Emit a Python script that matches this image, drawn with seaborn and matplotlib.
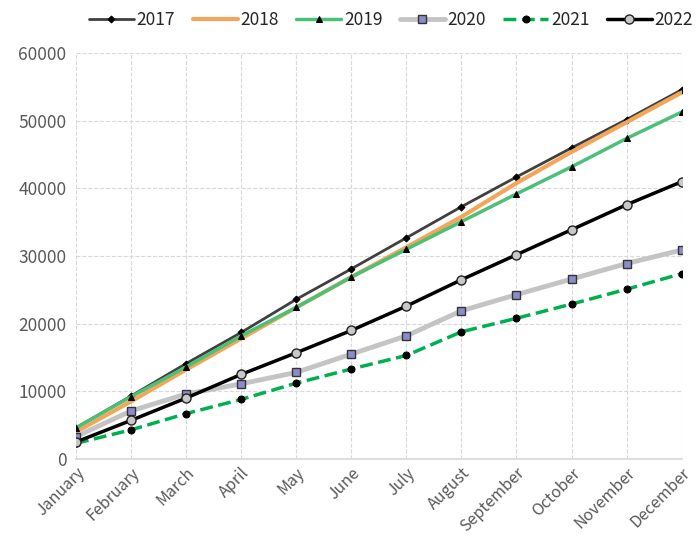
import pandas as pd
import matplotlib.pyplot as plt
import seaborn as sns

# Data
months = ['January', 'February', 'March', 'April', 'May', 'June', 'July',
          'August', 'September', 'October', 'November', 'December']
y2017 = [4600, 9300, 14100, 18700, 23600, 28100, 32700, 37300, 41700, 46000, 50200, 54600]
y2018 = [4000, 8500, 13200, 17800, 22400, 26900, 31300, 35800, 40800, 45400, 49800, 54200]
y2019 = [4600, 9200, 13600, 18200, 22400, 26900, 31000, 35100, 39200, 43200, 47400, 51300]
y2020 = [3300, 7100, 9600, 11100, 12800, 15500, 18200, 21900, 24300, 26600, 28900, 30900]
y2021 = [2300, 4300, 6700, 8800, 11200, 13300, 15300, 18800, 20800, 22900, 25100, 27400]
y2022 = [2500, 5700, 9000, 12500, 15700, 19000, 22600, 26500, 30200, 33900, 37600, 41000]

sns.set_theme(style='white')
plt.rcParams['font.family'] = ['Noto Sans CJK SC', 'DejaVu Sans']

fig = plt.figure(figsize=(6.97, 5.38), dpi=100)
ax = fig.add_axes([0.109, 0.147, 0.869, 0.754])

x = list(range(len(months)))
styles = [
    ('2017', y2017, dict(color='#404040', lw=2, marker='D', ms=3.5, mfc='black', mec='black')),
    ('2018', y2018, dict(color='#F2A65A', lw=3, marker=None)),
    ('2019', y2019, dict(color='#4CC077', lw=2.5, marker='^', ms=5, mfc='black', mec='black')),
    ('2020', y2020, dict(color='#C4C4C4', lw=3.5, marker='s', ms=5.5, mfc='#8C8CCC', mec='#333333', mew=1)),
    ('2021', y2021, dict(color='#00B050', lw=2.5, ls='--', marker='o', ms=5, mfc='black', mec='black')),
    ('2022', y2022, dict(color='black', lw=2.5, marker='o', ms=6.5, mfc='#C8C8C8', mec='#222222', mew=1)),
]

for label, vals, kw in styles:
    df = pd.DataFrame({'x': x, 'v': vals})
    ls = kw.pop('ls', '-')
    sns.lineplot(data=df, x='x', y='v', ax=ax, label=label, linestyle=ls, **kw)

ax.set_xlim(0, len(months) - 1)
ax.set_ylim(0, 60000)
ax.set_yticks(range(0, 60001, 10000))
ax.set_xticks(x)
ax.set_xticklabels(months, rotation=45, ha='right', rotation_mode='anchor')
ax.set_xlabel('')
ax.set_ylabel('')
ax.tick_params(axis='y', labelsize=12.5, labelcolor='#595959', length=0, pad=7)
ax.tick_params(axis='x', labelsize=11.5, labelcolor='#595959', length=0, pad=4)
ax.grid(True, color='#D9D9D9', linestyle='--', linewidth=0.8)
for s in ['top', 'right', 'left']:
    ax.spines[s].set_visible(False)
ax.spines['bottom'].set_color('#D9D9D9')

ax.legend(loc='center right', bbox_to_anchor=(0.997, 1 - 20 / 538), bbox_transform=fig.transFigure,
          ncol=6, frameon=False, fontsize=12.5, handlelength=2.6, columnspacing=1.0,
          handletextpad=0.15, borderaxespad=0.0, borderpad=0.1, labelcolor='#262626')

fig.savefig('out.png', dpi=100)
